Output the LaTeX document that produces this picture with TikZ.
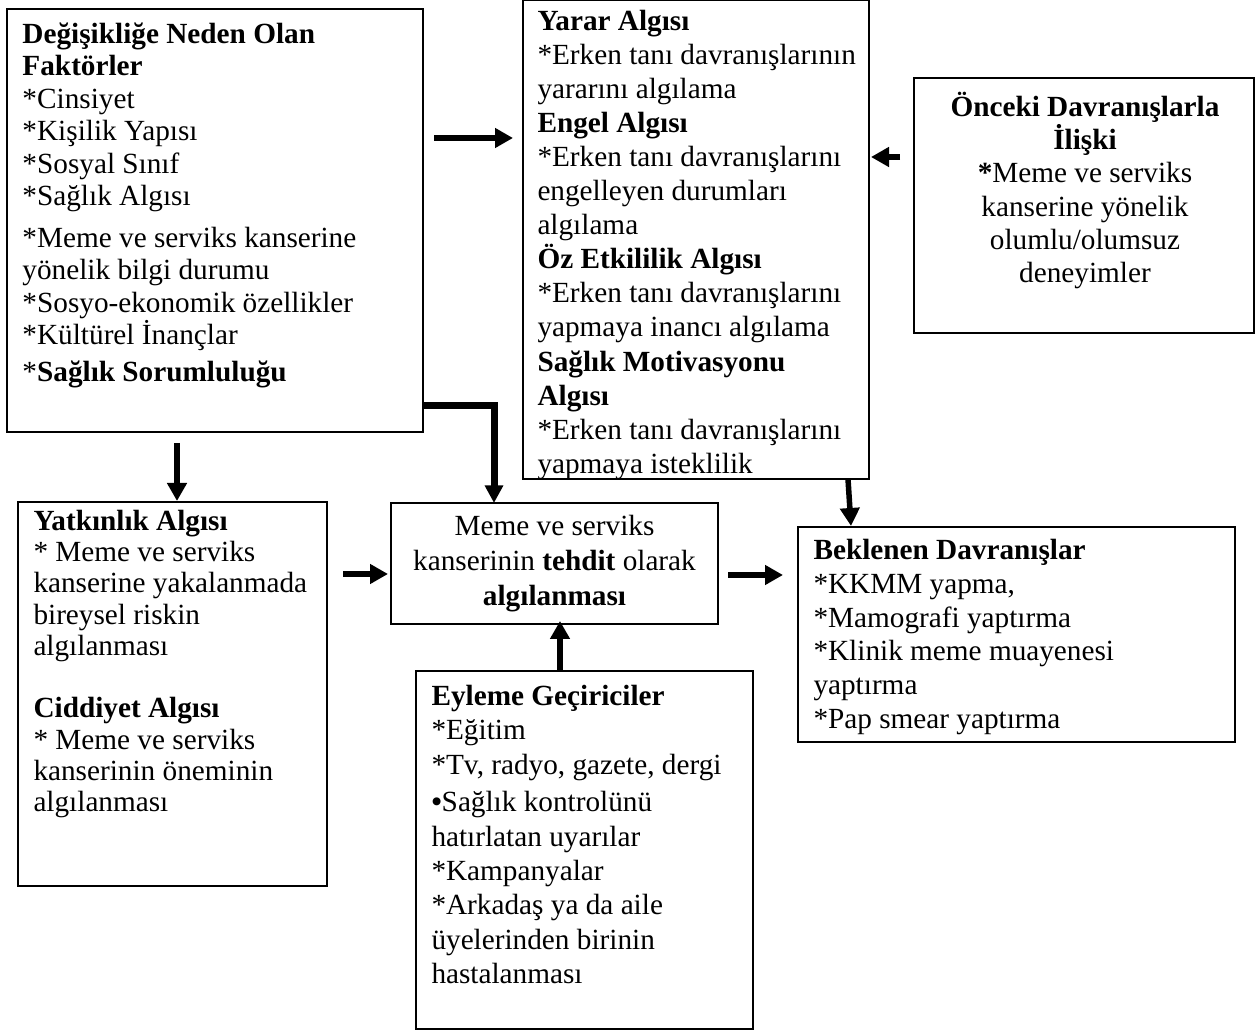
\documentclass[tikz,border=0pt]{standalone}
\usepackage{fontspec}
\setmainfont{Liberation Serif}
\usetikzlibrary{arrows.meta,fit}
% first-line strut so every text block starts from a known top
\newcommand\tstrut{\rule{0pt}{11pt}}
\begin{document}
\begin{tikzpicture}[x=0.4pt,y=-0.4pt,
  box/.style={draw,line width=0.8pt,inner sep=0pt},
  txt/.style={anchor=north west,inner sep=0pt,align=left},
  ctxt/.style={anchor=north,inner sep=0pt,align=center},
  flow/.style={line width=2.2pt,-{Triangle[length=7.2pt,width=7.6pt]}},
  bigflow/.style={line width=2.8pt,-{Triangle[length=7pt,width=7pt]}},
]
\useasboundingbox (0,0) rectangle (1256,1031);

% ---- boxes ----
\node[box,fit={(7,9) (423,432)}] (A) {};
\node[box,fit={(523,0) (869,479)}] (B) {};
\node[box,fit={(914,78) (1254,333)}] (C) {};
\node[box,fit={(18,502) (327,886)}] (D) {};
\node[box,fit={(391,503) (718,624)}] (E) {};
\node[box,fit={(798,527) (1235,742)}] (F) {};
\node[box,fit={(416,671) (753,1029)}] (G) {};

% ---- texts ----
\node[txt,font=\fontsize{11.7}{12.96}\selectfont] (tA) at (22,15.5) {\tstrut\textbf{Değişikliğe Neden Olan}\\
\textbf{Faktörler}\\
*Cinsiyet\\
*Kişilik Yapısı\\
*Sosyal Sınıf\\
*Sağlık Algısı\\[3.8pt]
*Meme ve serviks kanserine\\
yönelik bilgi durumu\\
*Sosyo-ekonomik özellikler\\
*Kültürel İnançlar\\[1.8pt]
*\textbf{Sağlık Sorumluluğu}};

\begin{scope}
\clip (523,0) rectangle (869,479);
\node[txt,font=\fontsize{11.7}{13.62}\selectfont] (tB) at (537,2.5) {\tstrut\textbf{Yarar Algısı}\\
*Erken tanı davranışlarının\\
yararını algılama\\
\textbf{Engel Algısı}\\
*Erken tanı davranışlarını\\
engelleyen durumları\\
algılama\\
\textbf{Öz Etkililik Algısı}\\
*Erken tanı davranışlarını\\
yapmaya inancı algılama\\
\textbf{Sağlık Motivasyonu}\\
\textbf{Algısı}\\
*Erken tanı davranışlarını\\
yapmaya isteklilik};
\end{scope}

\node[ctxt,font=\fontsize{11.7}{13.28}\selectfont] (tC) at (1085,88.5) {\tstrut\textbf{Önceki Davranışlarla}\\
\textbf{İlişki}\\
\textbf{*}Meme ve serviks\\
kanserine yönelik\\
olumlu/olumsuz\\
deneyimler};

\node[txt,font=\fontsize{11.7}{12.5}\selectfont] (tD) at (33,502.5) {\tstrut\textbf{Yatkınlık Algısı}\\
* Meme ve serviks\\
kanserine yakalanmada\\
bireysel riskin\\
algılanması\\
\mbox{}\\
\textbf{Ciddiyet Algısı}\\
* Meme ve serviks\\
kanserinin öneminin\\
algılanması};

\node[ctxt,font=\fontsize{11.7}{14}\selectfont] (tE) at (554.5,507.5) {\tstrut Meme ve serviks\\
kanserinin \textbf{tehdit} olarak\\
\textbf{algılanması}};

\node[txt,font=\fontsize{11.7}{13.52}\selectfont] (tF) at (813,531.5) {\tstrut\textbf{Beklenen Davranışlar}\\
*KKMM yapma,\\
*Mamografi yaptırma\\
*Klinik meme muayenesi\\
yaptırma\\
*Pap smear yaptırma};

\node[txt,font=\fontsize{11.7}{13.72}\selectfont] (tG) at (431,677.5) {\tstrut\textbf{Eyleme Geçiriciler}\\
*Eğitim\\
*Tv, radyo, gazete, dergi\\[1.4pt]
\textbf{•}Sağlık kontrolünü\\
hatırlatan uyarılar\\
*Kampanyalar\\
*Arkadaş ya da aile\\
üyelerinden birinin\\
hastalanması};

% ---- connector ends ----
\coordinate (ab1) at (434,138);  \coordinate (ab2) at (513,138);
\coordinate (cb1) at (900,157);  \coordinate (cb2) at (871,157);
\coordinate (ad1) at (177,443);  \coordinate (ad2) at (177,501);
\coordinate (ae1) at (423,406);  \coordinate (ae2) at (494,503);
\coordinate (de1) at (343,574);  \coordinate (de2) at (388,574);
\coordinate (ef1) at (728,575);  \coordinate (ef2) at (783,575);
\coordinate (ge1) at (560,671);  \coordinate (ge2) at (560,621);
\coordinate (bf1) at (848,479);  \coordinate (bf2) at (851,526);

% ---- connectors ----
\draw[flow] (ab1) -- (ab2);
\draw[flow] (cb1) -- (cb2);
\draw[flow] (ad1) -- (ad2);
\draw[bigflow] (ae1) -| (ae2);
\draw[flow] (de1) -- (de2);
\draw[flow] (ef1) -- (ef2);
\draw[flow] (ge1) -- (ge2);
\draw[flow] (bf1) -- (bf2);
\end{tikzpicture}
\end{document}
